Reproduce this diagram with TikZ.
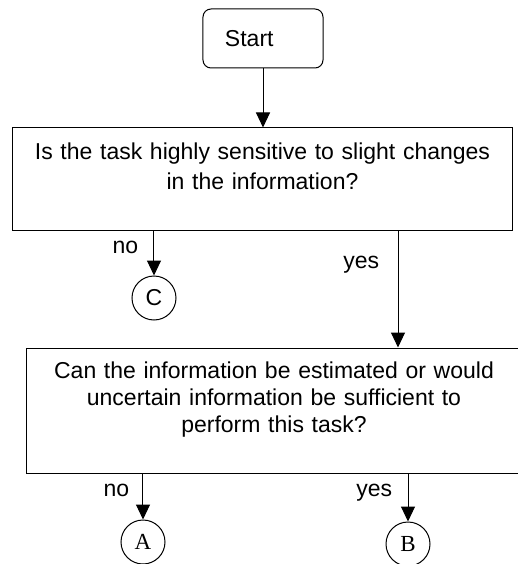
\documentclass[tikz,border=0pt]{standalone}
\usepackage{fontspec}
\setmainfont{Liberation Sans}
\newfontfamily\letterfont{Liberation Serif}
\usetikzlibrary{shapes}
\usetikzlibrary{arrows.meta}

\begin{document}
\begin{tikzpicture}[node distance=120pt, font=\fontsize{23}{30}\selectfont]
\tikzstyle{arrow}=[line width=1pt, -{Triangle[length=15pt, width=14pt]}] % here

\tikzstyle{startstop} = [rectangle, rounded corners=8pt, minimum width=120pt, minimum height=59pt, text width=76pt, inner xsep=22pt, align=left, draw=black, line width=1pt]
% Define the question style for the text boxes
\tikzstyle{question}=[rectangle,text width=480pt,text height=16pt,align=center,draw=black,line width=1pt]

% Define the connector style for the lettered circles
\tikzstyle{connector}=[circle,minimum size=44pt,inner sep=0pt,draw=black,line width=1pt]

\useasboundingbox (-263pt,38.5pt) rectangle (254pt,-525.5pt);

% define the nodes in the flowchart
\node(start)[startstop]{Start};
\node (question1) [question, minimum width=499pt, minimum height=102pt, text depth=54pt, below of=start, xshift=-0.5pt, yshift=-20.5pt] {Is the task highly sensitive to slight changes\\ in the information?};
\node (connC) [connector, below of=question1, xshift=-108.5pt, yshift=1pt] {C};
\node (question2) [question, font=\fontsize{23}{27}\selectfont, minimum width=494pt, minimum height=125pt, text depth=81pt, below of=question1, xshift=11.5pt, yshift=-111.5pt] {Can the information be estimated or would\\ uncertain information be sufficient to\\ perform this task?};
\node (connA) [connector, font=\fontsize{23}{27}\letterfont, below of=question2, xshift=-131pt, yshift=-11.5pt] {A};
\node (connB) [connector, font=\fontsize{23}{27}\letterfont, below of=question2, xshift=134pt, yshift=-13.5pt] {B};
\coordinate (yes1) at ([xshift=135.5pt]question1.south);

% define the arrows between the nodes
\draw[arrow] (start) -- (start |- question1.north);
\draw[arrow] (question1.south -| connC.north) -- node (no1) [left, pos=0.37, xshift=-12pt] {no} (connC.north);
\draw[arrow] (yes1) -- node (yes1label) [left, pos=0.29, xshift=-15pt] {yes} (yes1 |- question2.north);
\draw[arrow] (question2.south -| connA.north) -- node (no2) [left, pos=0.36, xshift=-10pt] {no} (connA.north);
\draw[arrow] (question2.south -| connB.north) -- node (yes2) [left, pos=0.39, xshift=-12pt] {yes} (connB.north);

\end{tikzpicture}
\end{document}
